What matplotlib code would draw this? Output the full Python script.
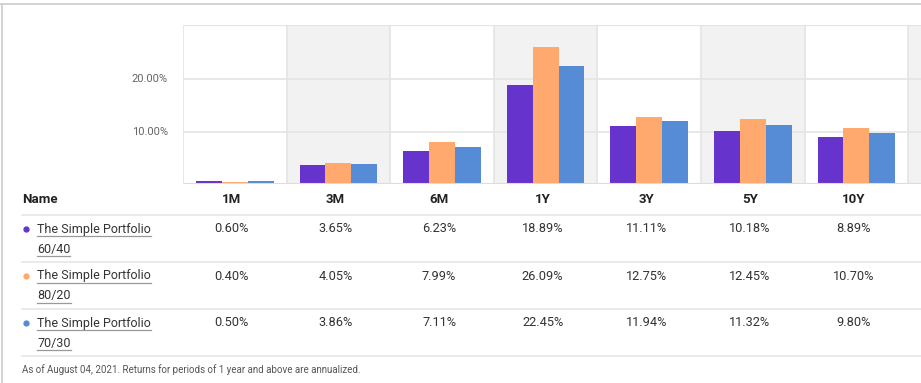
import numpy as np
import matplotlib
matplotlib.use("Agg")
import matplotlib.pyplot as plt
from matplotlib.lines import Line2D

plt.rcParams["font.family"] = ["Roboto", "DejaVu Sans"]

W, H = 921, 383

periods = ["1M", "3M", "6M", "1Y", "3Y", "5Y", "10Y"]
names = ["The Simple Portfolio\n60/40", "The Simple Portfolio\n80/20", "The Simple Portfolio\n70/30"]
p6040 = [0.60, 3.65, 6.23, 18.89, 11.11, 10.18, 8.89]
p8020 = [0.40, 4.05, 7.99, 26.09, 12.75, 12.45, 10.70]
p7030 = [0.50, 3.86, 7.11, 22.45, 11.94, 11.32, 9.80]
yticks = [10, 20]
footnote = "As of August 04, 2021. Returns for periods of 1 year and above are annualized."

PURPLE, ORANGE, BLUE = "#6633cc", "#ffa96e", "#568bd6"
SHADE, GRID, LINE = "#f2f2f2", "#e4e4e4", "#e6e6e6"
TXT = "#333333"

series = [p6040, p8020, p7030]
colors = [PURPLE, ORANGE, BLUE]


def fx(x):
    return x / W


def fy(y):
    return 1 - y / H


fig = plt.figure(figsize=(W / 100, H / 100), dpi=100)

# chart area: x 183..921 px, y 25..184 px
colw = 103.6
left, top, bottom = 183, 25, 184
ax = fig.add_axes([fx(left), fy(bottom), fx(W - left), (bottom - top) / H])
ncols_vis = (W - left) / colw
ax.set_xlim(-0.5, -0.5 + ncols_vis)
ax.set_ylim(0, 30.3)

for i in range(len(periods) + 1):
    if i % 2 == 1:
        ax.axvspan(i - 0.5, i + 0.5, color=SHADE, lw=0, zorder=0)
    ax.axvline(i - 0.5, color=GRID, lw=1.2, zorder=1)
for t in yticks:
    ax.axhline(t, color=GRID, lw=1.2, zorder=1)
ax.axhline(30.3, color=GRID, lw=1.5, zorder=1)
ax.axhline(0, color="#dddddd", lw=1.5, zorder=3)

x = np.arange(len(periods))
bw = 0.25
for k, (vals, c) in enumerate(zip(series, colors)):
    ax.bar(x + (k - 1) * bw, vals, bw, color=c, zorder=2, lw=0)

for s in ax.spines.values():
    s.set_visible(False)
ax.set_xticks([])
ax.set_yticks([])
for t in yticks:
    fig.text(fx(168), fy(bottom - t * (bottom - top) / 30.3), f"{t:.2f}%",
             ha="right", va="center", fontsize=8, color="#666666")

# outer frame lines
fig.add_artist(Line2D([0, 1], [fy(4), fy(4)], color="#cccccc", lw=1.2))
fig.add_artist(Line2D([fx(2), fx(2)], [fy(4), 0], color="#cccccc", lw=1.2))

# table
centers = [left + colw * (i + 0.5) - 3 for i in range(len(periods))]
fig.text(fx(22), fy(199), "Name", ha="left", va="center", fontsize=9.5,
         fontweight="bold", color="#222222")
for cx, p in zip(centers, periods):
    fig.text(fx(cx), fy(199), p, ha="center", va="center", fontsize=9.5,
             fontweight="bold", color="#222222")

for yl in [215, 262, 309, 356]:
    fig.add_artist(Line2D([fx(22), 1], [fy(yl), fy(yl)], color=LINE, lw=1.2))

row_y = [229, 276, 323]
name_texts = []
for r, (nm, c) in enumerate(zip(names, colors)):
    y0 = row_y[r]
    fig.add_artist(Line2D([fx(26)], [fy(y0)], marker="o", ms=3.5, color=c, lw=0))
    for j, part in enumerate(nm.split("\n")):
        t = fig.text(fx(37), fy(y0 + j * 20), part, ha="left", va="center",
                     fontsize=9.0, color=TXT)
        name_texts.append((t, y0 + j * 20))
    for i, cx in enumerate(centers):
        fig.text(fx(cx), fy(y0), f"{series[r][i]:.2f}%", ha="center", va="center",
                 fontsize=9.2, color=TXT)

fig.canvas.draw()
rend = fig.canvas.get_renderer()
for t, yc in name_texts:
    bb = t.get_window_extent(renderer=rend)
    fig.add_artist(Line2D([fx(bb.x0), fx(bb.x1)], [fy(yc + 7), fy(yc + 7)],
                          color="#999999", lw=0.9))

fig.text(fx(22), fy(370), footnote, ha="left", va="center", fontsize=7.0,
         color="#555555")

fig.savefig("out.png", dpi=100)
